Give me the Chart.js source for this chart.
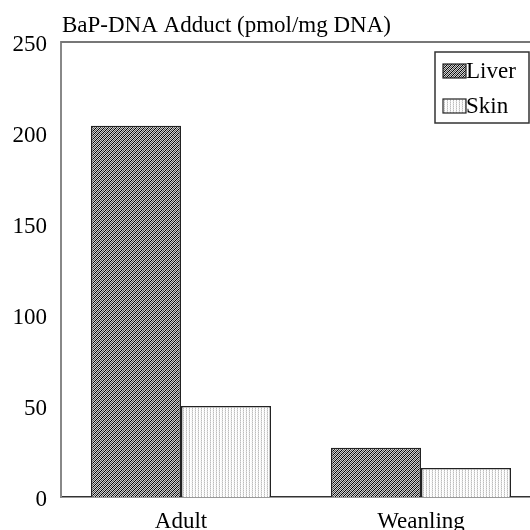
<!DOCTYPE html>
<html>
<head>
<meta charset="utf-8">
<script src="https://cdn.jsdelivr.net/npm/chart.js@4"></script>
<style>
body { margin: 0; overflow: hidden; background: #fff; }
</style>
</head>
<body>
<canvas id="myChart" width="545" height="530"></canvas>
<script>
// data
var groups = ['Adult', 'Weanling'];
var liver = [204, 27];
var skin = [50, 16];
var yTicks = [0, 50, 100, 150, 200, 250];
var axisTitle = 'BaP-DNA Adduct (pmol/mg DNA)';

var FONT = '"Liberation Serif", "Times New Roman", serif';
var FSIZE = 23;

function makePattern(w, h, paint) {
    let c = document.createElement('canvas');
    c.width = w; c.height = h;
    let g = c.getContext('2d');
    paint(g);
    return document.getElementById('myChart').getContext('2d').createPattern(c, 'repeat');
}

// dark diagonal hatch for liver
var liverFill = makePattern(4, 4, function(g){
    for (let x = 0; x < 4; x++) {
        for (let y = 0; y < 4; y++) {
            let k = (x + y) % 4;
            g.fillStyle = k == 3 ? '#000' : (k == 1 ? '#555' : '#d0d0d0');
            g.fillRect(x, y, 1, 1);
        }
    }
});
// light vertical dotted lines for skin
var skinFill = makePattern(3, 2, function(g){
    g.fillStyle = '#fff';
    g.fillRect(0, 0, 3, 2);
    g.fillStyle = '#bdbdbd';
    g.fillRect(0, 0, 1, 1);
    g.fillStyle = '#dcdcdc';
    g.fillRect(0, 1, 1, 1);
    g.fillStyle = '#f2f2f2';
    g.fillRect(2, 1, 1, 1);
});

var framePlugin = {
    id: 'frame',
    afterDraw: function(chart) {
        let ctx = chart.ctx;
        let a = chart.chartArea;
        ctx.save();
        // top border
        ctx.strokeStyle = '#777';
        ctx.lineWidth = 2;
        ctx.beginPath();
        ctx.moveTo(a.left, a.top);
        ctx.lineTo(a.right, a.top);
        ctx.stroke();
        // axis title above the plot
        ctx.fillStyle = '#000';
        ctx.font = FSIZE + 'px ' + FONT;
        ctx.textBaseline = 'alphabetic';
        ctx.textAlign = 'left';
        ctx.fillText(axisTitle, a.left + 1, 32);
        // legend box
        let bx = 435, by = 52, bw = 94, bh = 71;
        ctx.fillStyle = '#fff';
        ctx.fillRect(bx, by, bw, bh);
        ctx.strokeStyle = '#333';
        ctx.lineWidth = 1.5;
        ctx.strokeRect(bx, by, bw, bh);
        chart.data.datasets.forEach(function(ds, i){
            let sy = 64 + i * 35;
            ctx.fillStyle = ds.backgroundColor;
            ctx.fillRect(443, sy, 23, 14);
            ctx.strokeStyle = '#222';
            ctx.lineWidth = 1.2;
            ctx.strokeRect(443, sy, 23, 14);
            ctx.fillStyle = '#000';
            ctx.font = FSIZE + 'px ' + FONT;
            ctx.textBaseline = 'middle';
            ctx.fillText(ds.label, 466, sy + 8);
        });
        ctx.restore();
    }
};

var ctx = document.getElementById('myChart').getContext('2d');
var myChart = new Chart(ctx, {
    type: 'bar',
    data: {
        labels: groups,
        datasets: [{
            label: 'Liver',
            data: liver,
            backgroundColor: liverFill,
            borderColor: '#222',
            borderWidth: 1.5
        }, {
            label: 'Skin',
            data: skin,
            backgroundColor: skinFill,
            borderColor: '#222',
            borderWidth: 1.5
        }]
    },
    options: {
        responsive: false,
        animation: false,
        layout: { padding: { top: 42, right: 4, left: 0, bottom: 0 } },
        datasets: { bar: { barPercentage: 1, categoryPercentage: 0.75 } },
        plugins: {
            legend: { display: false },
            tooltip: { enabled: false }
        },
        scales: {
            x: {
                grid: { display: false, drawTicks: false },
                border: { display: true, color: '#333', width: 1.5 },
                ticks: { color: '#000', font: { family: FONT, size: FSIZE }, padding: 11 },
                afterFit: function(s){ s.height = 33; }
            },
            y: {
                min: 0,
                max: 250,
                afterBuildTicks: function(s){ s.ticks = yTicks.map(v => ({ value: v })); },
                grid: { display: false, drawTicks: false },
                border: { display: true, color: '#888', width: 2 },
                ticks: { color: '#000', font: { family: FONT, size: FSIZE }, padding: 14, labelOffset: 3 },
                afterFit: function(s){ s.width = 61; }
            }
        }
    },
    plugins: [framePlugin]
});
</script>
</body>
</html>
